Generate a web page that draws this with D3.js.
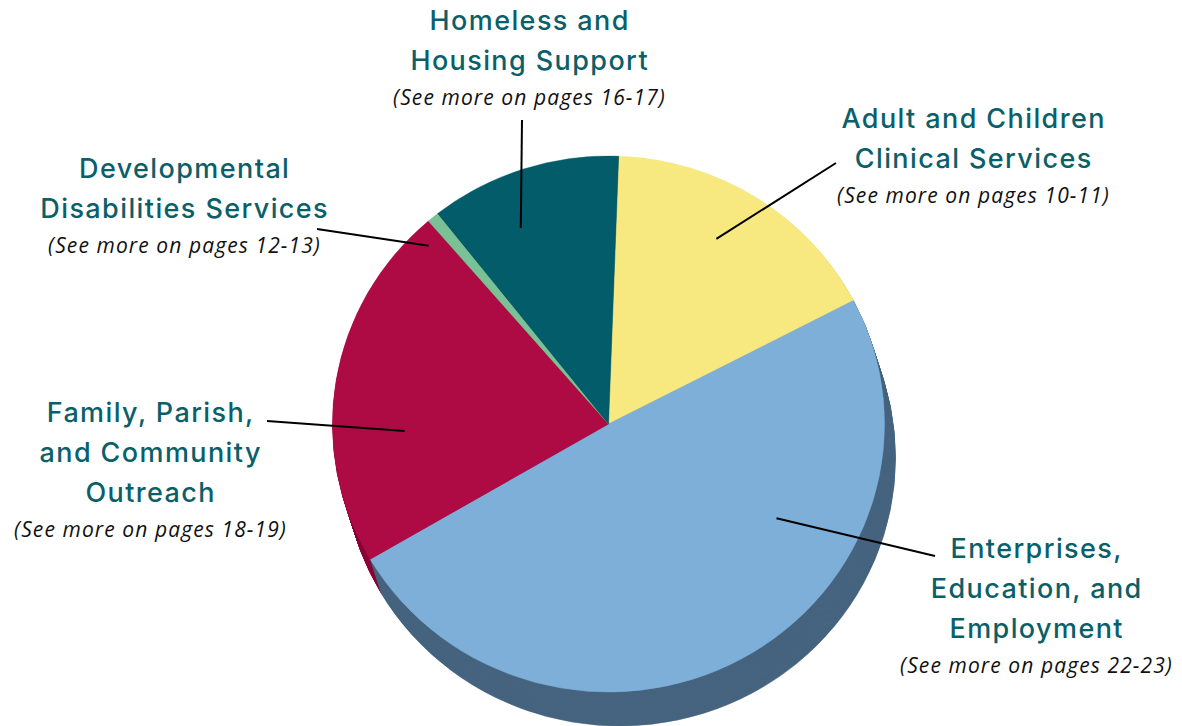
<!DOCTYPE html>
<html>
<head>
<meta charset="UTF-8" />
<title>Program spending</title>
<script src="https://cdn.jsdelivr.net/npm/d3@7"></script>
<style>
  body { margin: 0; background: #fff; }
  .title { font-family: Inter, "Noto Sans", sans-serif; font-weight: 500; fill: #0b5f69; letter-spacing: 1.4px; }
  .pages { font-family: "Open Sans", sans-serif; font-style: italic; font-weight: 400; fill: #111; letter-spacing: 1.1px; }
</style>
</head>
<body>
<svg id="chart"></svg>
<script>
// slices, clockwise from the top
const categories = [
  "Adult and Children Clinical Services",
  "Enterprises, Education, and Employment",
  "Family, Parish, and Community Outreach",
  "Developmental Disabilities Services",
  "Homeless and Housing Support"
];
const values = [16.8, 49.2, 22.1, 0.7, 11.2];
const titleLines = [
  ["Adult and Children", "Clinical Services"],
  ["Enterprises,", "Education, and", "Employment"],
  ["Family, Parish,", "and Community", "Outreach"],
  ["Developmental", "Disabilities Services"],
  ["Homeless and", "Housing Support"]
];
const pages = ["10-11", "22-23", "18-19", "12-13", "16-17"];
const topColors = ["#f7e87f", "#7eafd8", "#ae0b45", "#7bc196", "#025c69"];
const sideColors = ["#b9ab4f", "#46647f", "#8a0638", "#4f8a66", "#01404a"];

const width = 1182, height = 726;
const cx = 608.5, cy = 424, rx = 276, ry = 268;
const depthX = 11, depthY = 34;

// label layout: text block centre / first line, leader line ends
const labelLayout = [
  { x: 973, y: 118, from: [836, 163], angle: 29.5, r: 219 },
  { x: 1036, y: 548, from: [935, 556], angle: 120, r: 194 },
  { x: 150, y: 412, from: [267, 421], angle: 268, r: 204 },
  { x: 184, y: 168, from: [317, 229], angle: 315.6, r: 257 },
  { x: 529, y: 20, from: [522, 120], angle: 336.5, r: 220 }
];

const svg = d3.select("#chart").attr("width", width).attr("height", height);

const pie = d3.pie().sort(null)
  .startAngle(2.1 * Math.PI / 180)
  .endAngle(2.1 * Math.PI / 180 + 2 * Math.PI);
const arcs = pie(values);
const arc = d3.arc().innerRadius(0).outerRadius(rx);

// side of the 3d pie: stacked copies moving back toward the top face
const side = svg.append("g");
const steps = 40;
for (let k = steps; k >= 1; k--) {
  const t = k / steps;
  side.append("g")
    .attr("transform", `translate(${cx + depthX * t},${cy + depthY * t}) scale(1,${ry / rx})`)
    .selectAll("path")
    .data(arcs)
    .join("path")
    .attr("d", arc)
    .attr("fill", (d, i) => sideColors[i])
    .attr("stroke", (d, i) => sideColors[i])
    .attr("stroke-width", 0.6);
}

// top face
svg.append("g")
  .attr("transform", `translate(${cx},${cy}) scale(1,${ry / rx})`)
  .selectAll("path")
  .data(arcs)
  .join("path")
  .attr("d", arc)
  .attr("fill", (d, i) => topColors[i])
  .attr("stroke", (d, i) => topColors[i])
  .attr("stroke-width", 0.5);

// leader lines
const polar = (deg, r) => {
  const a = deg * Math.PI / 180;
  return [cx + r * Math.sin(a), cy - r * Math.cos(a) * ry / rx];
};
svg.append("g").selectAll("line")
  .data(labelLayout)
  .join("line")
  .attr("x1", d => d.from[0])
  .attr("y1", d => d.from[1])
  .attr("x2", d => polar(d.angle, d.r)[0])
  .attr("y2", d => polar(d.angle, d.r)[1])
  .attr("stroke", "#000")
  .attr("stroke-width", 2);

// labels
const labels = svg.append("g").selectAll("g")
  .data(categories)
  .join("g");

labels.each(function (d, i) {
  const g = d3.select(this);
  const lay = labelLayout[i];
  titleLines[i].forEach((line, j) => {
    g.append("text")
      .attr("class", "title")
      .attr("x", lay.x + 0.7)
      .attr("y", lay.y + j * 40)
      .attr("dy", "0.36em")
      .attr("text-anchor", "middle")
      .attr("font-size", 27)
      .text(line);
  });
  g.append("text")
    .attr("class", "pages")
    .attr("x", lay.x + 0.5)
    .attr("y", lay.y + titleLines[i].length * 40 - 3)
    .attr("dy", "0.36em")
    .attr("text-anchor", "middle")
    .attr("font-size", 21)
    .text(`(See more on pages ${pages[i]})`);
});
</script>
</body>
</html>
